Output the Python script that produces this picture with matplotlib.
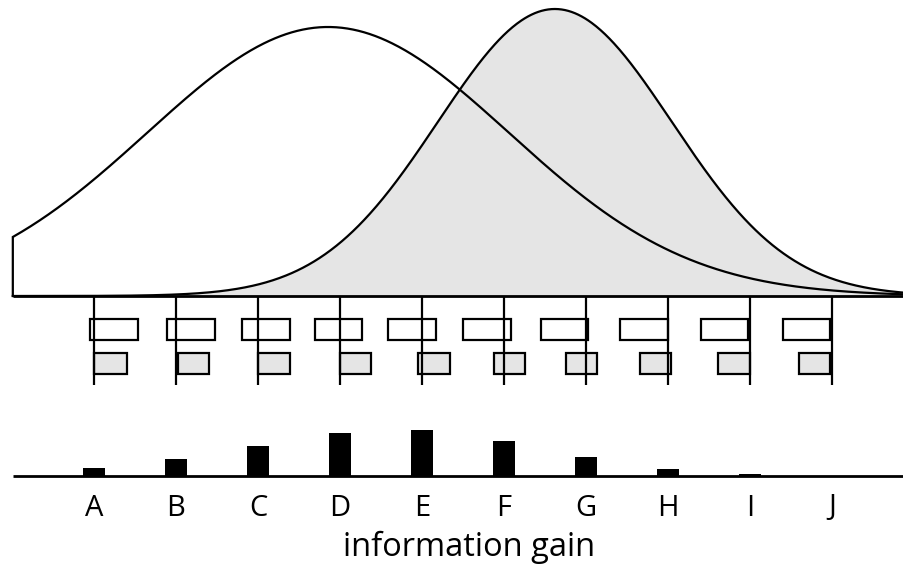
import numpy as np
import matplotlib
matplotlib.use("Agg")
import matplotlib.pyplot as plt
from matplotlib.patches import Rectangle
from matplotlib import transforms

# ---------------- data ----------------
categories = ["A", "B", "C", "D", "E", "F", "G", "H", "I", "J"]
x_label = "information gain"

# two bell-shaped distributions (mean, sd in category units, peak height)
white_mean, white_sd, white_peak = 2.854, 2.207, 269.0
gray_mean, gray_sd, gray_peak = 5.62, 1.427, 287.0
curve_start = -0.99

# interval boxes (low, high) per category, in category units
white_lo = [-0.049, 0.890, 1.801, 2.695, 3.589, 4.504, 5.451, 6.418, 7.402, 8.399]
white_hi = [0.540, 1.479, 2.387, 3.272, 4.167, 5.085, 6.028, 7.000, 7.979, 8.972]
gray_lo = [0.004, 1.021, 2.004, 2.996, 3.955, 4.874, 5.756, 6.659, 7.613, 8.601]
gray_hi = [0.399, 1.399, 2.394, 3.378, 4.338, 5.256, 6.138, 7.040, 7.996, 8.972]

# bar values
bar_values = [8, 17, 30.3, 43, 46, 35, 19, 7, 2.3, 0]

# ---------------- layout ----------------
W, H = 904, 568
fig = plt.figure(figsize=(W / 100, H / 100), dpi=100)
XLIM = ((0 - 94) / 82, (904 - 94) / 82)
GRAY = "#e5e5e5"
LW = 1.6


def px_axes(top, bottom):
    ax = fig.add_axes([0, (H - bottom) / H, 1, (bottom - top) / H])
    ax.set_xlim(*XLIM)
    ax.axis("off")
    return ax


def bell(x, m, s, p):
    return p * np.exp(-0.5 * ((x - m) / s) ** 2)


# top: distributions
ax1 = px_axes(0, 296)
ax1.set_ylim(0, 296)
xs = np.linspace(curve_start, XLIM[1], 800)
yw = bell(xs, white_mean, white_sd, white_peak)
yg = bell(xs, gray_mean, gray_sd, gray_peak)
ax1.fill_between(xs, 0, yw, color="white", zorder=1, lw=0)
ax1.fill_between(xs, 0, yg, color=GRAY, zorder=2, lw=0)
ax1.plot(np.r_[curve_start, xs], np.r_[0, yw], color="black", lw=LW, zorder=3,
         clip_on=False, solid_joinstyle="miter")
ax1.plot(xs, yg, color="black", lw=LW, zorder=3, clip_on=False)
ax1.plot([curve_start, XLIM[1]], [0, 0], color="black", lw=2.0, zorder=4,
         clip_on=False, solid_capstyle="butt")

# middle: intervals
ax2 = px_axes(296, 385)
ax2.set_ylim(385, 296)
pos = np.arange(len(categories))
for i in range(len(categories)):
    ax2.add_patch(Rectangle((white_lo[i], 319.3), white_hi[i] - white_lo[i], 21.0,
                            facecolor="none", edgecolor="black", lw=LW, zorder=2))
    ax2.add_patch(Rectangle((gray_lo[i], 353.0), gray_hi[i] - gray_lo[i], 21.3,
                            facecolor=GRAY, edgecolor="black", lw=LW, zorder=2))
ax2.vlines(pos, 296, 385, color="black", lw=LW, zorder=3)

# bottom: bars
ax3 = px_axes(385, 476)
ax3.set_ylim(0, 91)
ax3.bar(pos, bar_values, width=0.28, color="black", zorder=2)
ax3.plot([curve_start, XLIM[1]], [0, 0], color="black", lw=2.0, zorder=3,
         clip_on=False, solid_capstyle="butt")

tr = transforms.blended_transform_factory(ax3.transData, fig.transFigure)
for i, c in enumerate(categories):
    fig.text(i, (H - 515.5) / H, c, transform=tr, ha="center", va="baseline",
             fontsize=21, family="Open Sans", color="black")
fig.text(469 / W, (H - 555.5) / H, x_label, ha="center", va="baseline",
         fontsize=23.5, family="Open Sans", color="black")

fig.savefig("out.png", dpi=100)
